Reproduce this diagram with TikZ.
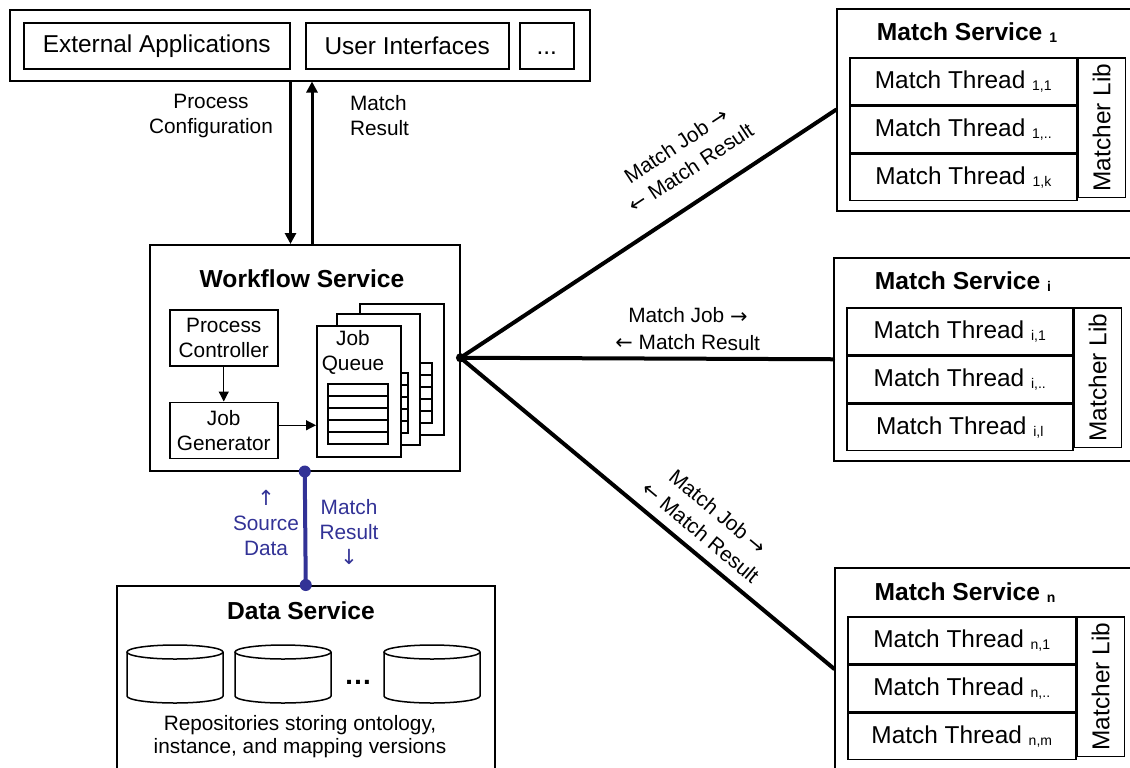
\documentclass[tikz,border=0pt]{standalone}
\usepackage{fontspec}
\setmainfont{Liberation Sans}
\newfontfamily\arw{DejaVu Sans}
\usepackage{xcolor}
\usetikzlibrary{arrows.meta,positioning}
\definecolor{dsblue}{RGB}{50,50,150}
\newcommand{\idx}[1]{\raisebox{-1pt}{\fontsize{7}{8}\selectfont#1}}
\newcommand{\rar}{{\arw →}}
\newcommand{\lar}{{\arw ←}}

\begin{document}
\begin{tikzpicture}[x=0.5pt,y=-0.5pt,
  box/.style={draw,line width=0.75pt,inner sep=0pt,fill=white,anchor=north west},
  txt/.style={font=\fontsize{12.2}{14}\selectfont},
  hdr/.style={font=\fontsize{12.3}{14}\selectfont\bfseries},
  note/.style={font=\fontsize{10.4}{12.5}\selectfont,align=center},
  flow/.style={line width=1.5pt,-{Triangle[length=5.5pt,width=5.5pt]}},
  minor/.style={line width=0.6pt,-{Triangle[length=5pt,width=5pt]}},
  link/.style={line width=2pt,line cap=round},
  elbl/.style={note,sloped,inner sep=0pt,font=\fontsize{10.4}{13.5}\selectfont}]
\useasboundingbox (0,0) rectangle (1130,767);
% clients
\node[box,minimum width=290pt,minimum height=35.5pt] (apps) at (9,9) {};
\node[box,txt,minimum width=133pt,minimum height=23pt] (extapp) at (23,22) {External Applications};
\node[box,txt,minimum width=101.5pt,minimum height=23pt] (ui) at (305,22) {User Interfaces};
\node[box,txt,minimum width=27pt,minimum height=23pt] (more) at (519,22) {\vphantom{U}...};
% workflow service
\node[box,minimum width=155pt,minimum height=113pt] (wf) at (149,244) {};
\node[hdr] (wft) at (302,279) {Workflow Service};
\node[box,note,minimum width=54pt,minimum height=28pt] (pc) at (169,309) {Process\\Controller};
\node[box,note,minimum width=54pt,minimum height=28pt,below=17.5pt of pc] (jg) {Job\\Generator};
\draw[minor] (pc) -- (jg);
\node[box,minimum width=42pt,minimum height=65.5pt] (q3) at (359,303) {};
\draw[line width=0.75pt] (419,363) rectangle (432,423);
\foreach \y in {375,387,399,411} \draw[line width=0.75pt] (419,\y) -- (432,\y);
\node[box,minimum width=41.5pt,minimum height=65.5pt] (q2) at (336,313) {};
\draw[line width=0.75pt] (400,373) rectangle (408,433);
\foreach \y in {385,397,409,421} \draw[line width=0.75pt] (400,\y) -- (408,\y);
\node[box,minimum width=42pt,minimum height=65.5pt] (q1) at (316,325) {};
\node[note] (jq) at (353,352) {Job\\Queue};
\draw[line width=0.75pt] (328,384) rectangle (388,444);
\foreach \y in {396,408,420,432} \draw[line width=0.75pt] (328,\y) -- (388,\y);
\draw[minor] ([yshift=2.5pt]jg.east) -- ([yshift=2.5pt]jg.east -| q1.west);
% requests and results
\coordinate (resx) at (312,0);
\draw[flow] (extapp.east |- apps.south) -- (extapp.east |- wf.north);
\draw[flow] (resx |- wf.north) -- (resx |- apps.south);
\node[note] (pcfg) at (211,116) {Process\\Configuration};
\node[note,anchor=west,align=left] (mres) at (343,116) {Match\\Result};
% data service
\node[box,minimum width=189pt,minimum height=103pt] (ds) at (116,585) {};
\node[hdr] (dst) at (301,611) {Data Service};
\draw[line width=2pt,dsblue] (wf.south) -- (ds.north);
\fill[dsblue] (wf.south) circle[radius=3pt];
\fill[dsblue] (ds.north) circle[radius=3pt];
\node[note,text=dsblue] (srcd) at (266,523) {{\arw ↑}\\Source\\Data};
\node[note,text=dsblue] (mresd) at (349,532) {Match\\Result\\{\arw ↓}};
\draw[line width=0.75pt,fill=white] (127,652) -- (127,696) arc[start angle=180,end angle=0,x radius=48,y radius=7] -- (223,652);
\draw[line width=0.75pt] (175,652) ellipse[x radius=48,y radius=7];
\draw[line width=0.75pt,fill=white] (235,652) -- (235,696) arc[start angle=180,end angle=0,x radius=48,y radius=7] -- (331,652);
\draw[line width=0.75pt] (283,652) ellipse[x radius=48,y radius=7];
\draw[line width=0.75pt,fill=white] (384,652) -- (384,696) arc[start angle=180,end angle=0,x radius=48,y radius=7] -- (480,652);
\draw[line width=0.75pt] (432,652) ellipse[x radius=48,y radius=7];
\node[font=\fontsize{14}{16}\selectfont\bfseries] (etc) at (358,682) {\ldots};
\node[note,font=\fontsize{10.4}{11.5}\selectfont] (repo) at (300,737) {Repositories storing ontology,\\instance, and mapping versions};
% match services
\begin{scope}[shift={(836,8)}]
\node[box,minimum width=152pt,minimum height=101pt] (ms1) at (0,0) {};
\node[hdr] (ms1t) at (131,25) {Match Service \idx{1}};
\node[box,txt,minimum width=113.5pt,minimum height=23.3pt] (t11) at (13,49) {Match Thread \idx{1,1}};
\node[box,txt,minimum width=113.5pt,minimum height=23.3pt,below=0pt of t11] (t12) {Match Thread \idx{1,..}};
\node[box,txt,minimum width=113.5pt,minimum height=23.3pt,below=0pt of t12] (t13) {Match Thread \idx{1,k}};
\node[box,minimum width=23.5pt,minimum height=69.9pt] (lib1) at (t11.north east) {};
\node[txt,rotate=90] (lib1t) at (lib1) {Matcher Lib};
\end{scope}
\begin{scope}[shift={(833,257)}]
\node[box,minimum width=153pt,minimum height=101.5pt] (msi) at (0,0) {};
\node[hdr] (msit) at (130,25) {Match Service \idx{i}};
\node[box,txt,minimum width=113pt,minimum height=23.3pt] (ti1) at (13,50) {Match Thread \idx{i,1}};
\node[box,txt,minimum width=113pt,minimum height=23.3pt,below=0pt of ti1] (ti2) {Match Thread \idx{i,..}};
\node[box,txt,minimum width=113pt,minimum height=23.3pt,below=0pt of ti2] (ti3) {Match Thread \idx{i,l}};
\node[box,minimum width=23.5pt,minimum height=69.9pt] (libi) at (ti1.north east) {};
\node[txt,rotate=90] (libit) at (libi) {Matcher Lib};
\end{scope}
\begin{scope}[shift={(834,567)}]
\node[box,minimum width=152pt,minimum height=101pt] (msn) at (0,0) {};
\node[hdr] (msnt) at (131,26) {Match Service \idx{n}};
\node[box,txt,minimum width=114pt,minimum height=23.3pt] (tn1) at (13,49) {Match Thread \idx{n,1}};
\node[box,txt,minimum width=114pt,minimum height=23.3pt,below=0pt of tn1] (tn2) {Match Thread \idx{n,..}};
\node[box,txt,minimum width=114pt,minimum height=23.3pt,below=0pt of tn2] (tn3) {Match Thread \idx{n,m}};
\node[box,minimum width=23.5pt,minimum height=69.9pt] (libn) at (tn1.north east) {};
\node[txt,rotate=90] (libnt) at (libn) {Matcher Lib};
\end{scope}
% match jobs
\draw[link] (wf.east) -- node[elbl,pos=.66,above=11pt] {Match Job \rar\\\lar{} Match Result} (ms1.west);
\draw[link] (wf.east) -- node[elbl,pos=.61,above=3.3pt] {Match Job \rar\\\lar{} Match Result} (msi.west);
\draw[link] (wf.east) -- node[elbl,pos=.61,above=5pt] {Match Job \rar\\\lar{} Match Result} (msn.west);
\fill (wf.east) circle[radius=2.3pt];
\end{tikzpicture}
\end{document}
